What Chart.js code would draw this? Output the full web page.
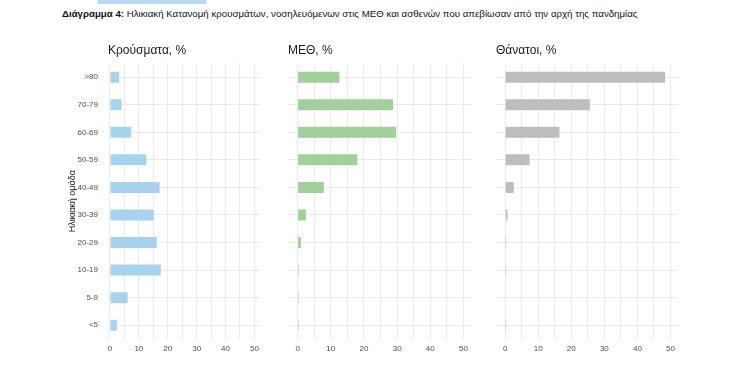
<!DOCTYPE html>
<html>
<head>
<meta charset="utf-8">
<script src="https://cdn.jsdelivr.net/npm/chart.js@4.4.1/dist/chart.umd.min.js"></script>
<style>
  body { margin: 0; background: #fff; width: 745px; height: 373px; position: relative; overflow: hidden; font-family: "Liberation Sans", Arial, sans-serif; }
  .hl { position: absolute; left: 98px; top: 0; width: 108px; height: 4px; background: #b9d8f2; }
  .hd { position: absolute; left: 62px; top: 8px; font-size: 9.7px; color: #111; white-space: nowrap; font-family: "Liberation Sans Narrow", "Liberation Sans", Arial, sans-serif; }
  .pnl { position: absolute; top: 35px; height: 325px; }
</style>
</head>
<body>
<div class="hl"></div>
<div class="hd"><b>Διάγραμμα 4:</b> Ηλικιακή Κατανομή κρουσμάτων, νοσηλευόμενων στις ΜΕΘ και ασθενών που απεβίωσαν από την αρχή της πανδημίας</div>

<div class="pnl" style="left:60px;width:204px"><canvas id="cases"></canvas></div>
<div class="pnl" style="left:288px;width:185px"><canvas id="icu"></canvas></div>
<div class="pnl" style="left:496px;width:184px"><canvas id="deaths"></canvas></div>

<script>
// ηλικιακές ομάδες, από πάνω προς τα κάτω
const ageGroups = ['>80', '70-79', '60-69', '50-59', '40-49', '30-39', '20-29', '10-19', '5-9', '<5'];

const casesPct  = [3.2, 4.0, 7.4, 12.6, 17.2, 15.2, 16.2, 17.6, 6.1, 2.4];
const icuPct    = [12.6, 28.8, 29.7, 18.0, 7.9, 2.5, 1.0, 0.3, 0.3, 0.3];
const deathsPct = [48.4, 25.6, 16.4, 7.4, 2.6, 0.7, 0.3, 0.3, 0.0, 0.3];

const xTicks = [0, 10, 20, 30, 40, 50];

const gridColor = '#ebebeb';
const tickColor = '#4d4d4d';

function makePanel(id, title, values, color, xmin, xmax, showY) {
    const ctx = document.getElementById(id).getContext('2d');
    new Chart(ctx, {
        type: 'bar',
        data: {
            labels: ageGroups,
            datasets: [{
                data: values,
                backgroundColor: color,
                borderWidth: 0,
                barPercentage: 0.4,
                categoryPercentage: 1
            }]
        },
        options: {
            indexAxis: 'y',
            responsive: true,
            maintainAspectRatio: false,
            animation: false,
            layout: { padding: 0 },
            plugins: {
                legend: { display: false },
                tooltip: { enabled: false },
                title: {
                    display: true,
                    text: title,
                    align: 'start',
                    fullSize: false,
                    color: '#1a1a1a',
                    font: { family: 'Liberation Sans', size: 12, weight: 'normal' },
                    padding: { top: 8, bottom: 6 }
                }
            },
            scales: {
                x: {
                    min: xmin,
                    max: xmax,
                    border: { display: false },
                    grid: { color: gridColor, lineWidth: 1, drawTicks: false },
                    ticks: {
                        stepSize: 5,
                        includeBounds: false,
                        padding: 5,
                        color: tickColor,
                        font: { family: 'Liberation Sans', size: 8 },
                        callback: v => xTicks.includes(v) ? String(v) : ''
                    },
                    afterFit: s => { s.height = 21; }
                },
                y: {
                    border: { display: false },
                    grid: { color: gridColor, lineWidth: 1, drawTicks: false, offset: false },
                    ticks: {
                        display: showY,
                        padding: 10,
                        color: tickColor,
                        font: { family: 'Liberation Sans', size: 8 }
                    },
                    title: {
                        display: showY,
                        text: 'Ηλικιακή ομάδα',
                        color: '#1a1a1a',
                        font: { family: 'Liberation Sans', size: 9 },
                        padding: { top: 7, bottom: 0 }
                    },
                    afterFit: s => { s.width = showY ? 48 : 0; }
                }
            }
        }
    });
}

makePanel('cases',  'Κρούσματα, %', casesPct,  '#a8d3ee', -0.68, 52.0, true);
makePanel('icu',    'ΜΕΘ, %',       icuPct,    '#a1d09a', -2.9, 52.4, false);
makePanel('deaths', 'Θάνατοι, %',   deathsPct, '#bebebe', -2.78, 52.3, false);
</script>
</body>
</html>
